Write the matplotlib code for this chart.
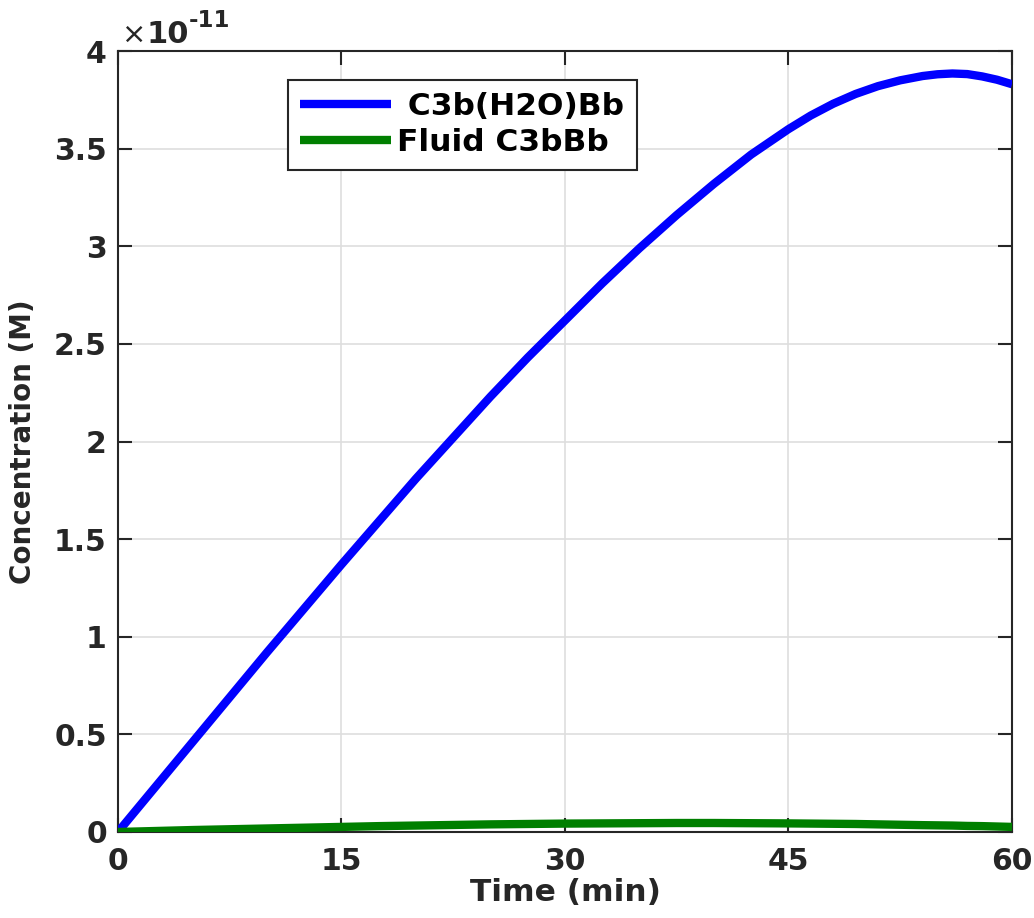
import numpy as np
import matplotlib
matplotlib.use("Agg")
import matplotlib.pyplot as plt
from matplotlib.ticker import FuncFormatter

# ── Data ──────────────────────────────────────────────────────────────────────
time_min = [0, 2.5, 5, 7.5, 10, 12.5, 15, 17.5, 20, 22.5, 25, 27.5, 30,
            32.5, 35, 37.5, 40, 42.5, 45, 46.5, 48, 49.5, 51, 52.5, 54,
            55, 56, 57, 58, 59, 60]
c3b_h2o_bb = [0.0, 0.23, 0.46, 0.69, 0.92, 1.145, 1.37, 1.59, 1.81, 2.02,
              2.23, 2.43, 2.62, 2.81, 2.99, 3.16, 3.32, 3.47, 3.60, 3.67,
              3.73, 3.78, 3.82, 3.85, 3.872, 3.881, 3.885, 3.882, 3.87,
              3.853, 3.83]
fluid_c3bbb = [0.0, 0.005, 0.01, 0.014, 0.018, 0.022, 0.026, 0.03, 0.033,
               0.036, 0.039, 0.041, 0.043, 0.044, 0.045, 0.046, 0.046, 0.045,
               0.044, 0.043, 0.042, 0.041, 0.039, 0.037, 0.035, 0.034,
               0.033, 0.031, 0.03, 0.028, 0.026]
SCALE = 1e-11

x_ticks = [0, 15, 30, 45, 60]
y_ticks = [0, 0.5, 1, 1.5, 2, 2.5, 3, 3.5, 4]

# ── Plot ──────────────────────────────────────────────────────────────────────
plt.rcParams["font.family"] = ["DejaVu Sans"]
plt.rcParams["font.weight"] = "bold"

W, H = 1034, 918
fig = plt.figure(figsize=(W / 100, H / 100), dpi=100)
ax = fig.add_axes([0.1141, 0.0937, 0.8646, 0.8507])

t = np.array(time_min)
ax.plot(t, np.array(c3b_h2o_bb) * SCALE, color="#0000ff", lw=6,
        label=" C3b(H2O)Bb", solid_capstyle="butt", solid_joinstyle="round",
        zorder=3)
ax.plot(t, np.array(fluid_c3bbb) * SCALE, color="#007f00", lw=6,
        label="Fluid C3bBb", solid_capstyle="butt", solid_joinstyle="round",
        zorder=3)

ax.set_xlim(0, 60)
ax.set_ylim(0, 4 * SCALE)
ax.set_xticks(x_ticks)
ax.set_yticks([v * SCALE for v in y_ticks])
ax.yaxis.set_major_formatter(FuncFormatter(lambda v, p: f"{v / SCALE:g}"))

ax.grid(True, color="#dedede", lw=1.2)
ax.set_axisbelow(True)
for s in ax.spines.values():
    s.set_color("#262626")
    s.set_linewidth(1.5)
ax.tick_params(direction="in", length=10, width=1.5, color="#262626",
               top=True, right=True, labelsize=21.5, labelcolor="#262626")
ax.tick_params(axis="x", pad=11)
ax.tick_params(axis="y", pad=8)
for lab in ax.get_xticklabels() + ax.get_yticklabels():
    lab.set_fontweight("bold")

ax.set_xlabel("Time (min)", fontsize=22.5, fontweight="bold", color="#262626",
              labelpad=1)
ax.set_ylabel("Concentration (M)", fontsize=20, fontweight="bold",
              color="#262626", labelpad=12)

# exponent label, MATLAB style
fig.text(122 / W, 1 - 43 / H, "\u00d7", fontsize=21, fontweight="normal",
         color="#262626", va="baseline", ha="left")
fig.text(146 / W, 1 - 43 / H, "10", fontsize=22, fontweight="bold",
         color="#262626", va="baseline", ha="left")
fig.text(189 / W, 1 - 27 / H, "-11", fontsize=16.5, fontweight="bold",
         color="#262626", va="baseline", ha="left")

leg = ax.legend(loc="upper left", bbox_to_anchor=(0.19, 0.963),
                borderaxespad=0, fancybox=False, framealpha=1,
                edgecolor="#262626", fontsize=22.5, handlelength=2.9,
                handletextpad=0.2, borderpad=0.4, labelspacing=0.22)
leg.get_frame().set_linewidth(1.5)
for txt in leg.get_texts():
    txt.set_fontweight("bold")

fig.savefig("out.png", dpi=100)
